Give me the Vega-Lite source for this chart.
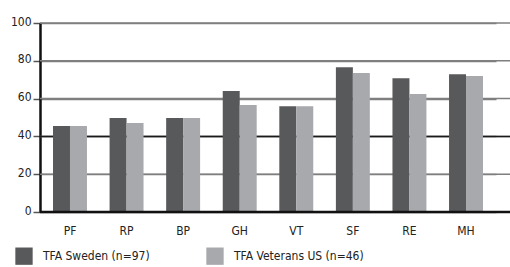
{
  "$schema": "https://vega.github.io/schema/vega-lite/v6.json",
  "autosize": "none",
  "padding": {"left": 40, "top": 23, "right": 0, "bottom": 55},
  "width": 470,
  "height": 189,
  "background": "white",
  "config": {
    "view": {"stroke": null},
    "font": "DejaVu Sans Condensed",
    "axis": {"labelFont": "DejaVu Sans Condensed", "labelFontSize": 12, "labelColor": "#222"},
    "legend": {"labelFont": "DejaVu Sans Condensed", "labelFontSize": 12, "labelColor": "#222"}
  },
  "datasets": {
    "bars": [
      {"scale": "PF", "group": "TFA Sweden (n=97)", "score": 45.5},
      {"scale": "PF", "group": "TFA Veterans US (n=46)", "score": 45.5},
      {"scale": "RP", "group": "TFA Sweden (n=97)", "score": 49.7},
      {"scale": "RP", "group": "TFA Veterans US (n=46)", "score": 47.1},
      {"scale": "BP", "group": "TFA Sweden (n=97)", "score": 49.7},
      {"scale": "BP", "group": "TFA Veterans US (n=46)", "score": 49.7},
      {"scale": "GH", "group": "TFA Sweden (n=97)", "score": 64.0},
      {"scale": "GH", "group": "TFA Veterans US (n=46)", "score": 56.6},
      {"scale": "VT", "group": "TFA Sweden (n=97)", "score": 56.0},
      {"scale": "VT", "group": "TFA Veterans US (n=46)", "score": 56.0},
      {"scale": "SF", "group": "TFA Sweden (n=97)", "score": 76.6},
      {"scale": "SF", "group": "TFA Veterans US (n=46)", "score": 73.5},
      {"scale": "RE", "group": "TFA Sweden (n=97)", "score": 70.8},
      {"scale": "RE", "group": "TFA Veterans US (n=46)", "score": 62.4},
      {"scale": "MH", "group": "TFA Sweden (n=97)", "score": 72.9},
      {"scale": "MH", "group": "TFA Veterans US (n=46)", "score": 71.9}
    ],
    "gridlines": [
      {"score": 0}, {"score": 20}, {"score": 40}, {"score": 60}, {"score": 80}, {"score": 100}
    ]
  },
  "encoding": {
    "y": {
      "field": "score", "type": "quantitative",
      "scale": {"domain": [0, 100], "nice": false},
      "axis": {
        "title": null,
        "tickCount": 5,
        "labelOverlap": false, "labelFlush": false,
        "domainColor": "#111", "domainWidth": 2.5,
        "tickSize": 7, "tickColor": "#555", "tickWidth": 1.5,
        "labelPadding": 2, "labelOffset": -2,
        "grid": true, "gridColor": "#7f7f7f", "gridWidth": 1.5
      }
    }
  },
  "layer": [
    {
      "data": {"name": "gridlines"},
      "mark": {"type": "rule", "color": "#7f7f7f", "strokeWidth": 1.5},
      "encoding": {}
    },
    {
      "data": {"name": "gridlines"},
      "transform": [{"filter": "datum.score === 40"}],
      "mark": {"type": "rule", "color": "#1a1a1a", "strokeWidth": 1.5},
      "encoding": {}
    },
    {
      "data": {"name": "bars"},
      "mark": {"type": "bar"},
      "encoding": {
        "x": {
          "field": "scale", "type": "nominal",
          "sort": ["PF", "RP", "BP", "GH", "VT", "SF", "RE", "MH"],
          "scale": {"range": [0, 456], "paddingInner": 0.4, "paddingOuter": 0.23},
          "axis": {"title": null, "domain": false, "ticks": false, "labelAngle": 0, "labelPadding": 13}
        },
        "xOffset": {"field": "group", "type": "nominal", "sort": ["TFA Sweden (n=97)", "TFA Veterans US (n=46)"], "scale": {"paddingInner": 0, "paddingOuter": 0}},
        "color": {
          "field": "group", "type": "nominal",
          "scale": {"domain": ["TFA Sweden (n=97)", "TFA Veterans US (n=46)"], "range": ["#58595b", "#a7a9ac"]},
          "legend": {
            "title": null, "orient": "none", "legendX": -25, "legendY": 224,
            "direction": "horizontal", "symbolType": "square", "symbolSize": 300,
            "symbolStrokeWidth": 0, "labelOffset": 10, "columnPadding": 56, "labelOverlap": false
          }
        }
      }
    },
    {
      "data": {"name": "gridlines"},
      "transform": [{"filter": "datum.score === 0"}],
      "mark": {"type": "rule", "color": "#111", "strokeWidth": 2.5},
      "encoding": {}
    }
  ]
}
